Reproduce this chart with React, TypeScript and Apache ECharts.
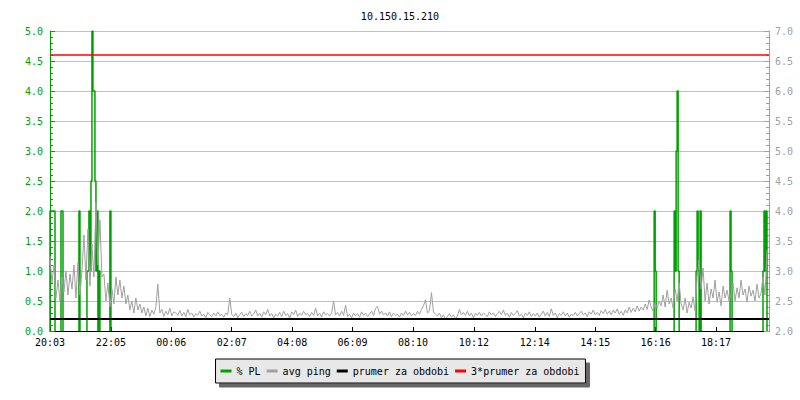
import React, { useEffect, useRef } from "react";
import * as echarts from "echarts";

const TITLE = "10.150.15.210";
const X_MAX = 1440; // minutes from 20:03
const PING_STEP = 4; // minutes between ping samples
const PL_STEP = 2; // minutes per PL sample

const xTickMinutes = [0, 122, 243, 364, 485, 606, 727, 849, 971, 1092, 1213, 1334];
const xTickLabels = ["20:03", "22:05", "00:06", "02:07", "04:08", "06:09", "08:10", "10:12", "12:14", "14:15", "16:16", "18:17"];

const pingValues = [
  3.25, 2.8, 3.1, 2.55, 2.85, 2.5, 2.9, 2.65, 3.0, 2.6, 2.95, 2.7, 3.1, 2.55, 3.15, 2.6, 3.0, 3.6, 2.85, 3.7,
  2.75, 3.45, 2.9, 4.15, 3.1, 3.85, 2.9, 2.95, 2.5, 2.8, 2.4, 2.7, 2.45, 2.9, 2.6, 2.85, 2.55, 2.75, 2.45, 2.6,
  2.35, 2.5, 2.3, 2.55, 2.35, 2.45, 2.3, 2.4, 2.25, 2.38, 2.24, 2.35, 2.28, 2.4, 2.78, 2.3, 2.36, 2.24, 2.33, 2.27,
  2.38, 2.25, 2.32,
  2.3, 2.26, 2.34, 2.25, 2.31, 2.24, 2.36, 2.27, 2.3, 2.23, 2.29, 2.26, 2.33, 2.25, 2.28, 2.22, 2.31, 2.27, 2.24, 2.3,
  2.25, 2.32, 2.26, 2.28, 2.23, 2.3, 2.27, 2.55, 2.28, 2.24, 2.3, 2.22, 2.27, 2.31, 2.24, 2.29, 2.26, 2.33, 2.25, 2.28,
  2.35, 2.25, 2.3, 2.23, 2.32, 2.27, 2.36, 2.25, 2.29, 2.22, 2.28, 2.25, 2.31, 2.24, 2.33, 2.26, 2.29, 2.21, 2.32, 2.27,
  2.35, 2.24, 2.3, 2.26, 2.33, 2.27, 2.29, 2.24, 2.31, 2.26, 2.38, 2.25, 2.3, 2.23, 2.32, 2.27, 2.29, 2.25, 2.3, 2.5,
  2.27, 2.31, 2.25, 2.33, 2.26, 2.43, 2.24, 2.28, 2.22, 2.3, 2.25, 2.29, 2.23, 2.32, 2.26, 2.3, 2.24, 2.28, 2.33, 2.26,
  2.38, 2.41, 2.28, 2.33, 2.27, 2.3, 2.25, 2.32, 2.24, 2.3, 2.26, 2.28, 2.23, 2.3, 2.26, 2.33, 2.27, 2.31, 2.25, 2.29,
  2.26, 2.33, 2.28, 2.36, 2.42, 2.52, 2.3, 2.34, 2.64, 2.32, 2.28, 2.25, 2.3, 2.22, 2.27, 2.19, 2.24, 2.29, 2.23, 2.27,
  2.2, 2.25, 2.36, 2.27, 2.31, 2.26, 2.33, 2.25, 2.3, 2.22, 2.29, 2.26, 2.31, 2.25, 2.3, 2.27, 2.24, 2.32, 2.27, 2.3,
  2.24, 2.29, 2.33, 2.27, 2.35, 2.26, 2.3, 2.23, 2.31, 2.26, 2.29, 2.34, 2.25, 2.28, 2.22, 2.3, 2.26, 2.32, 2.24, 2.29,
  2.25, 2.3, 2.23, 2.28, 2.33, 2.25, 2.31, 2.24, 2.37, 2.26, 2.3, 2.22, 2.29, 2.26, 2.32, 2.25, 2.3, 2.23, 2.28, 2.26,
  2.31, 2.25, 2.29, 2.33, 2.27, 2.3, 2.24, 2.32, 2.28, 2.35, 2.27, 2.31, 2.26, 2.34, 2.29, 2.36, 2.28, 2.33, 2.27, 2.35,
  2.3, 2.37, 2.28, 2.33, 2.26, 2.35, 2.3, 2.4, 2.31, 2.38, 2.32, 2.42, 2.33, 2.4,
  2.35, 2.45, 2.36, 2.52, 2.4, 2.33, 2.47, 2.38, 2.5,
  2.42, 2.6, 2.4, 2.68, 2.45, 2.55, 2.38,
  2.7, 2.5, 2.8,
  2.45, 2.35, 2.55, 2.3, 2.48, 2.38, 2.57, 2.33,
  2.9, 3.18, 2.7, 3.05,
  2.5, 2.8, 2.45, 2.7, 2.55, 2.85, 2.48, 2.65, 2.42, 2.75, 2.55, 2.68, 2.5,
  2.6, 2.8, 2.5, 2.72, 2.55, 2.85, 2.6, 2.7, 2.48, 2.75, 2.58, 2.68, 2.5, 2.78, 2.55, 2.62,
  2.9, 2.6, 3.35,
];

const plMinutes = [0, 2, 4, 6, 8, 22, 24, 58, 74, 76, 78, 80, 82, 84, 86, 88, 90, 92, 94, 98, 120,
  1210, 1212, 1250, 1252, 1254, 1256, 1258, 1294, 1296, 1298, 1302, 1362, 1364, 1428, 1430, 1432, 1434];
const plValues = [2, 2, 2, 2, 2, 2, 2, 2, 1, 1, 2, 1, 2.5, 5, 4, 4, 2.5, 1, 2, 1, 2,
  2, 1, 2, 1, 3, 4, 1, 1, 2, 1, 2, 2, 1, 1, 2, 1, 2];

const meanPing = 2.2;
const tripleMeanPing = 6.6;

const GREEN = "#00a000";
const GRAY = "#a0a0a0";
const FONT = "DejaVu Sans Mono";

export default function App() {
  const ref = useRef<HTMLDivElement>(null);
  useEffect(() => {
    if (!ref.current) return;
    const chart = echarts.init(ref.current, undefined, { renderer: "svg" });

    const pingData = pingValues.map((v, i) => [i * PING_STEP, v]);

    const plData: any[] = [];
    const n = plMinutes.length;
    for (let k = 0; k < n; k++) {
      const m = plMinutes[k];
      const v = plValues[k];
      const prevContig = k > 0 && plMinutes[k - 1] + PL_STEP === m;
      const nextContig = k < n - 1 && plMinutes[k + 1] === m + PL_STEP;
      if (!prevContig) plData.push([m, 0]);
      plData.push([m, v]);
      plData.push([m + PL_STEP, v]);
      if (!nextContig) {
        plData.push([m + PL_STEP, 0]);
        plData.push([m + PL_STEP, null]);
      }
    }

    const labelFor = (v: number) => {
      const idx = xTickMinutes.indexOf(v);
      return idx >= 0 ? xTickLabels[idx] : "";
    };

    chart.setOption({
      animation: false,
      backgroundColor: "#ffffff",
      title: {
        text: TITLE,
        left: "center",
        top: 6,
        textStyle: { fontFamily: FONT, fontSize: 10, fontWeight: "normal", color: "#000" },
      },
      legend: {
        left: "center",
        top: 359,
        padding: [6, 6, 6, 5],
        itemWidth: 11,
        itemHeight: 3,
        itemGap: 6,
        backgroundColor: "#e8e8e8",
        borderColor: "#000",
        borderWidth: 1,
        shadowColor: "#666666",
        shadowOffsetX: 4,
        shadowOffsetY: 4,
        shadowBlur: 0,
        textStyle: { fontFamily: FONT, fontSize: 10, color: "#000", lineHeight: 12 },
        data: [
          { name: "% PL", icon: "rect" },
          { name: "avg ping", icon: "rect" },
          { name: "prumer za obdobi", icon: "rect" },
          { name: "3*prumer za obdobi", icon: "rect" },
        ],
      },
      grid: { left: 50, right: 31, top: 31, bottom: 69 },
      xAxis: {
        type: "value",
        min: 0,
        max: X_MAX,
        axisLine: { lineStyle: { color: "#000", width: 1 } },
        axisTick: { inside: true, length: 4, customValues: xTickMinutes, lineStyle: { color: "#000" } },
        axisLabel: {
          customValues: xTickMinutes,
          formatter: labelFor,
          fontFamily: FONT,
          fontSize: 10,
          color: "#000",
          margin: 6,
        },
        splitLine: { show: false },
      },
      yAxis: [
        {
          type: "value",
          min: 0,
          max: 5,
          interval: 0.5,
          axisLine: { show: true, lineStyle: { color: GREEN } },
          axisTick: { show: true, inside: true, length: 5, lineStyle: { color: GREEN } },
          minorTick: { show: true, splitNumber: 5, length: 3, lineStyle: { color: GREEN } },
          axisLabel: { formatter: (v: number) => v.toFixed(1), fontFamily: FONT, fontSize: 10, color: GREEN, margin: 7 },
          splitLine: { show: true, lineStyle: { color: "#c0c0c0", width: 1 } },
        },
        {
          type: "value",
          min: 2,
          max: 7,
          interval: 0.5,
          position: "right",
          axisLine: { show: true, lineStyle: { color: GRAY } },
          axisTick: { show: true, inside: true, length: 5, lineStyle: { color: GRAY } },
          minorTick: { show: true, splitNumber: 5, length: 3, lineStyle: { color: GRAY } },
          axisLabel: { formatter: (v: number) => v.toFixed(1), fontFamily: FONT, fontSize: 10, color: GRAY, margin: 6 },
          splitLine: { show: false },
        },
      ],
      series: [
        {
          name: "% PL",
          type: "line",
          yAxisIndex: 0,
          data: plData,
          showSymbol: false,
          connectNulls: false,
          color: GREEN,
          lineStyle: { color: GREEN, width: 1.5 },
          z: 3,
        },
        {
          name: "avg ping",
          type: "line",
          yAxisIndex: 1,
          data: pingData,
          showSymbol: false,
          color: GRAY,
          lineStyle: { color: GRAY, width: 1 },
          z: 4,
        },
        {
          name: "prumer za obdobi",
          type: "line",
          yAxisIndex: 1,
          data: [[0, meanPing], [X_MAX, meanPing]],
          showSymbol: false,
          color: "#000",
          lineStyle: { color: "#000", width: 2 },
          z: 5,
        },
        {
          name: "3*prumer za obdobi",
          type: "line",
          yAxisIndex: 1,
          data: [[0, tripleMeanPing], [X_MAX, tripleMeanPing]],
          showSymbol: false,
          color: "#ff0000",
          lineStyle: { color: "#ff0000", width: 1.5 },
          z: 5,
        },
      ],
    });
    return () => chart.dispose();
  }, []);
  return <div ref={ref} style={{ width: 800, height: 400, position: "absolute", left: 0, top: 0 }} />;
}
